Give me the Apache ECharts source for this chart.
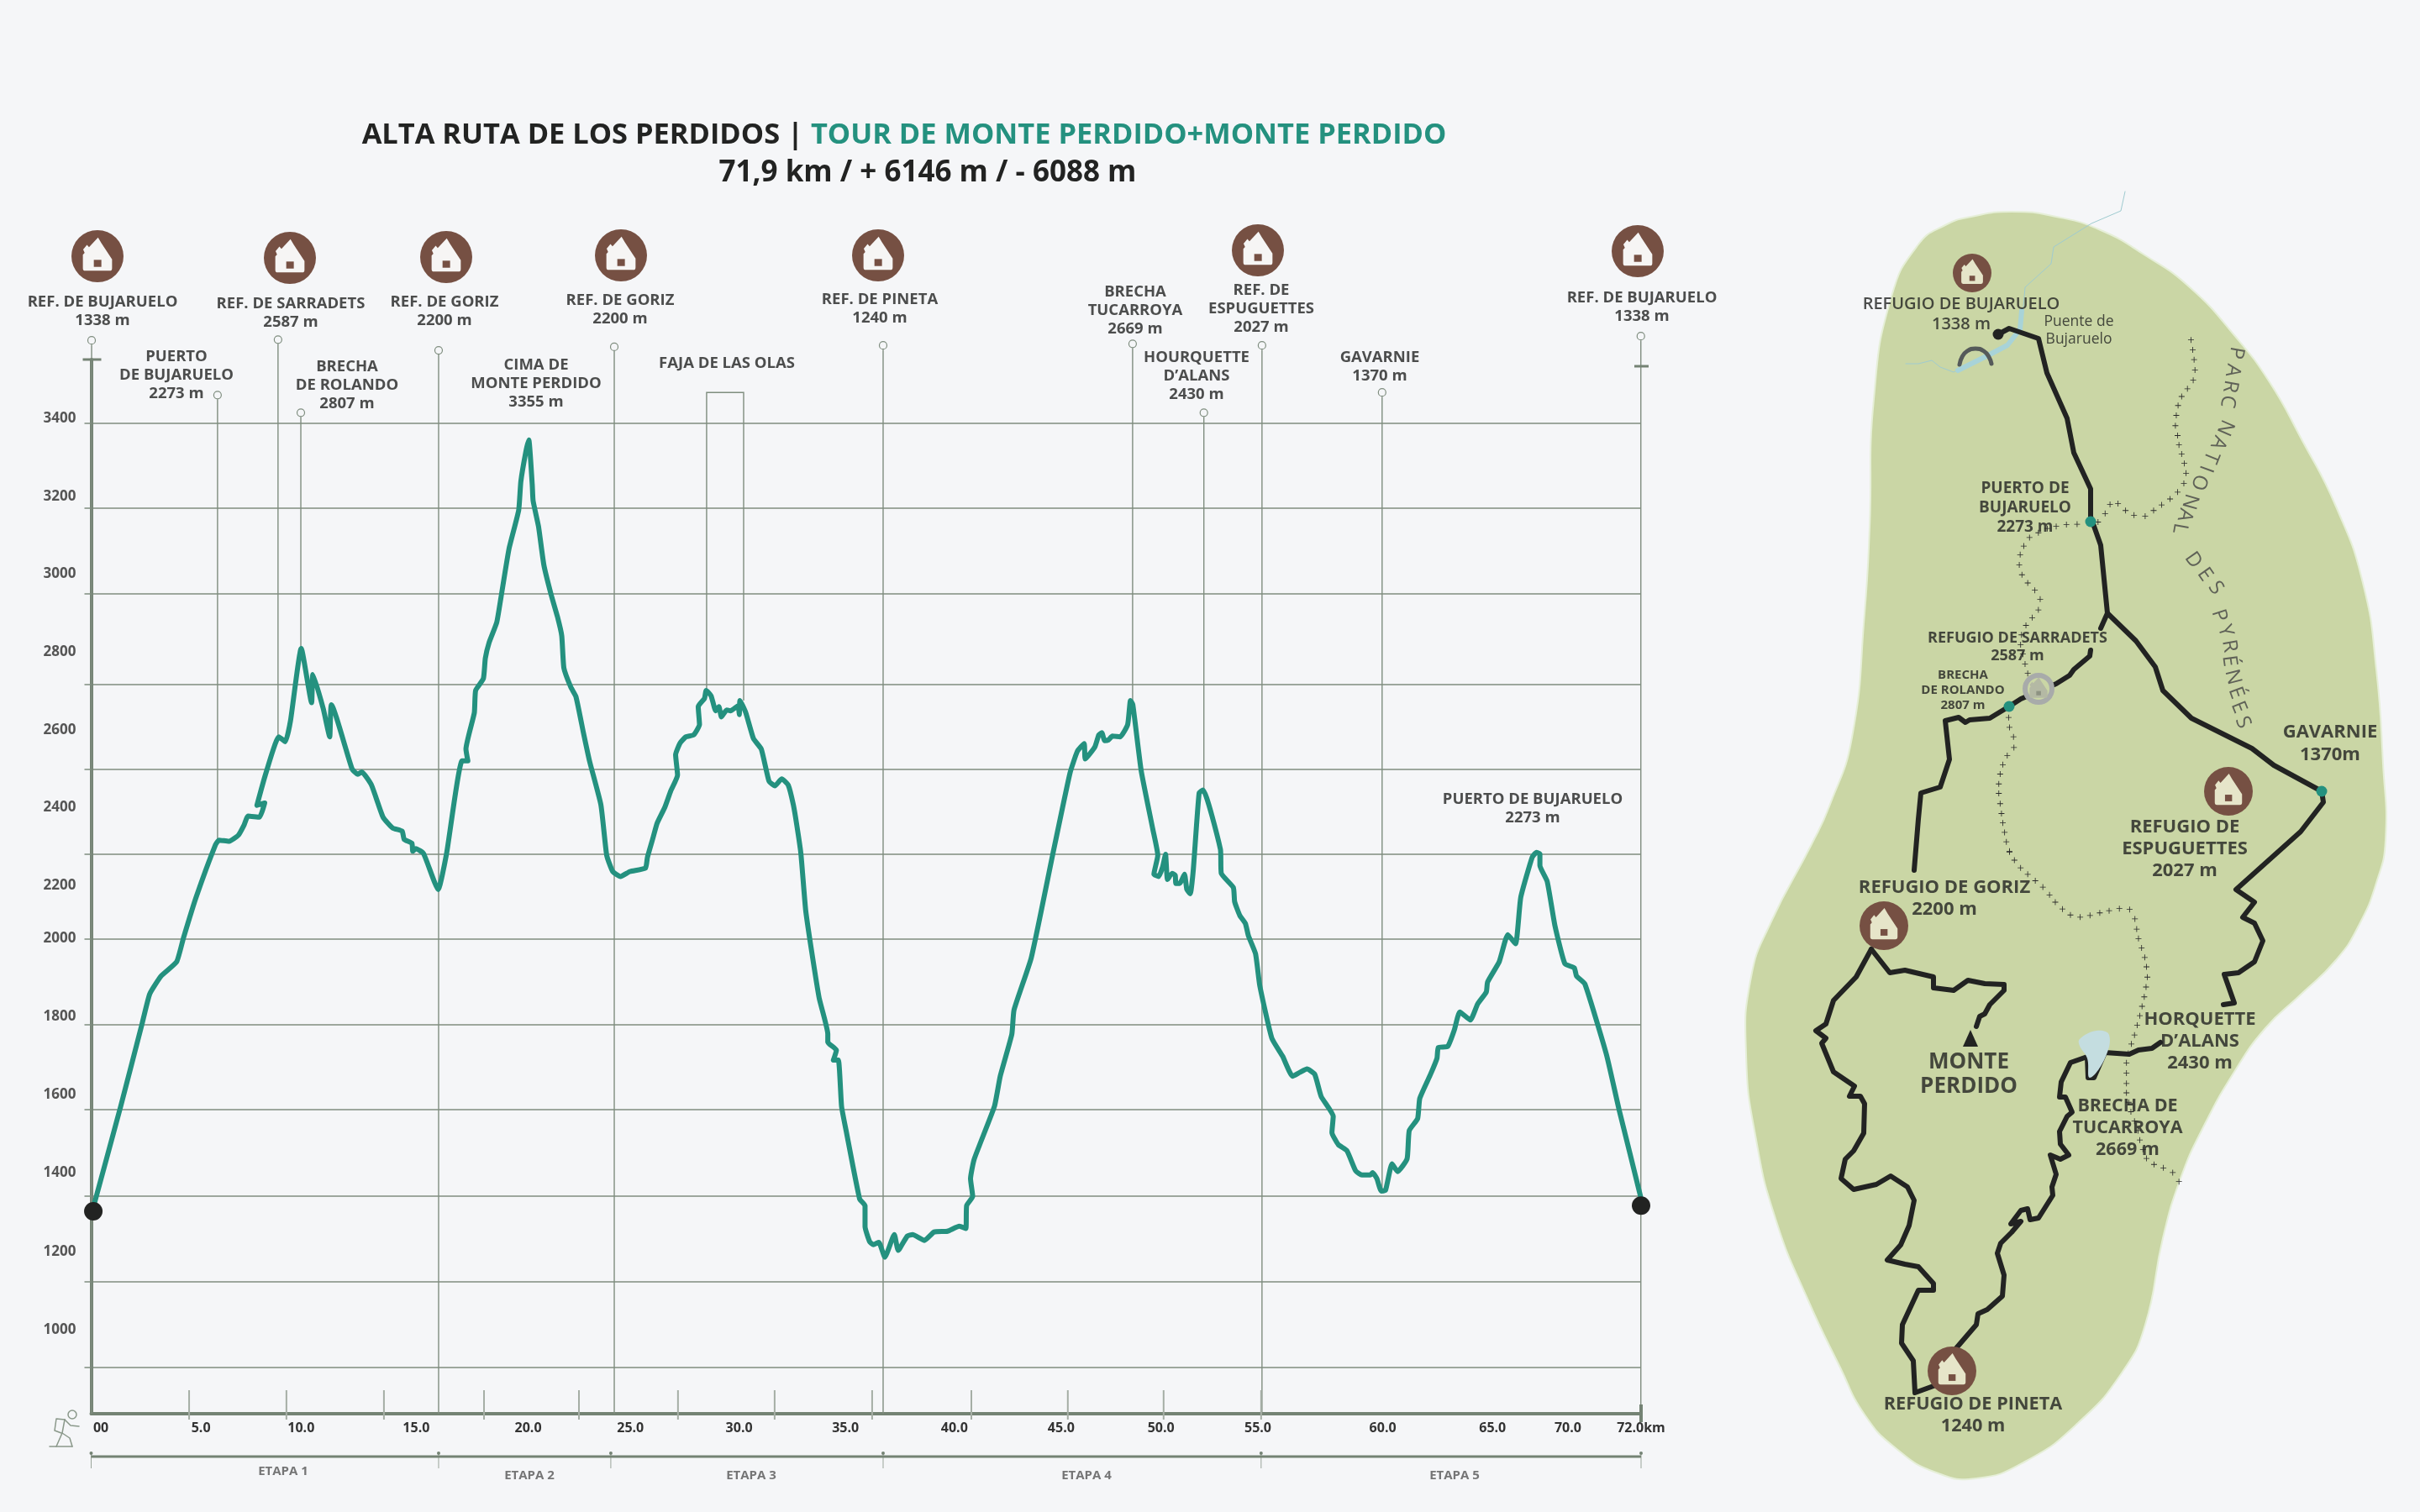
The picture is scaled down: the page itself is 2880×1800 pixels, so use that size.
<!DOCTYPE html>
<html><head><meta charset="utf-8">
<style>html,body{margin:0;padding:0;background:#f5f6f8}#c{width:2880px;height:1800px}</style>
<script src="https://cdn.jsdelivr.net/npm/echarts@6/dist/echarts.min.js"></script>
</head><body><div id="c"></div>
<script>
// ---------- elevation profile: [km, metres] ----------
const stage1 = [[0.05,1338],[1.37,1612],[2.36,1827],[2.72,1906],[3.25,1953],[3.97,1990],[4.29,2053],[4.87,2158],[5.76,2294],[5.94,2308],[6.39,2305],[6.84,2321],[7.10,2347],[7.29,2371],[7.82,2368],[8.06,2405],[7.70,2399],[8.09,2478],[8.72,2578],[9.02,2565],[9.26,2620],[9.76,2809],[10.24,2667],[10.30,2741],[10.78,2652],[11.08,2578],[11.16,2662],[12.12,2494],[12.39,2480],[12.57,2486],[13.02,2452],[13.56,2368],[14.0,2340],[14.45,2331],[14.54,2310],[14.9,2300],[14.94,2279],[15.08,2286],[15.44,2273],[16.12,2179]];
const stage2 = [[16.51,2273],[17.23,2515],[17.5,2515],[17.41,2546],[17.8,2641],[17.86,2699],[18.22,2730],[18.31,2783],[18.49,2825],[18.84,2877],[19.04,2943],[19.41,3069],[19.86,3170],[19.96,3245],[20.2,3325],[20.33,3354],[20.49,3237],[20.53,3195],[20.78,3128],[21.03,3027],[21.36,2951],[21.66,2892],[21.86,2842],[21.96,2758],[22.28,2708],[22.52,2683],[22.87,2588],[23.15,2515],[23.68,2400],[23.95,2268],[24.23,2226]];
const stage3 = [[24.59,2213],[25.03,2226],[25.75,2235],[25.84,2263],[26.11,2316],[26.29,2352],[26.65,2394],[26.92,2436],[27.24,2478],[27.15,2531],[27.36,2562],[27.63,2578],[27.99,2583],[28.26,2610],[28.2,2657],[28.49,2678],[28.57,2699],[28.8,2685],[29.01,2646],[29.16,2657],[29.28,2630],[29.52,2648],[29.7,2646],[30.05,2659],[30.11,2636],[30.14,2673],[30.41,2641],[30.77,2573],[31.13,2546],[31.49,2462],[31.76,2450],[32.08,2468],[32.38,2452],[32.62,2400],[32.78,2347],[32.97,2273],[33.19,2126],[33.46,2021],[33.82,1895],[34.22,1801],[34.22,1780],[34.62,1759],[34.48,1733],[34.71,1733],[34.86,1612],[35.07,1549],[35.7,1370],[35.95,1353],[35.95,1298],[36.17,1258],[36.34,1251],[36.59,1257]];
const stage4 = [[36.87,1218],[37.31,1277],[37.49,1236],[37.91,1273],[38.16,1277],[38.71,1262],[39.16,1284],[39.78,1286],[40.33,1299],[40.63,1293],[40.67,1353],[40.95,1377],[40.85,1423],[41.02,1474],[41.96,1612],[42.23,1691],[42.77,1801],[42.87,1864],[43.67,2000],[44.66,2268],[45.47,2483],[45.82,2541],[46.13,2560],[46.18,2520],[46.63,2552],[46.81,2583],[46.95,2589],[47.08,2568],[47.26,2570],[47.44,2580],[47.8,2578],[48.15,2610],[48.28,2673],[48.39,2662],[48.78,2489],[49.32,2336],[49.55,2268],[49.37,2219],[49.59,2213],[49.77,2237],[49.91,2271],[50,2205],[50.21,2221],[50.36,2216],[50.39,2195],[50.57,2195],[50.79,2219],[50.9,2179],[51.06,2168],[51.2,2231],[51.47,2431],[51.65,2439],[52.46,2284],[52.5,2221],[53.06,2184],[53.12,2147],[53.36,2111],[53.62,2090],[53.76,2058],[54.09,2011],[54.29,1927]];
const stage5 = [[54.85,1790],[55.35,1743],[55.81,1691],[56.15,1701],[56.48,1710],[56.84,1696],[57.14,1638],[57.7,1586],[57.64,1544],[57.94,1512],[58.34,1496],[58.74,1444],[59.03,1433],[59.43,1433],[59.53,1439],[59.73,1423],[59.93,1391],[60.13,1393],[60.43,1462],[60.69,1442],[61.13,1475],[61.23,1549],[61.62,1580],[61.72,1633],[62.22,1696],[62.52,1738],[62.58,1766],[63.02,1769],[63.32,1811],[63.58,1859],[64.07,1838],[64.41,1880],[64.81,1911],[64.87,1937],[65.41,1990],[65.81,2061],[66.17,2037],[66.41,2158],[66.94,2263],[67.14,2276],[67.3,2272],[67.3,2242],[67.64,2200],[68.0,2084],[68.46,1985],[68.9,1974],[69.0,1953],[69.39,1932],[70.39,1748],[70.99,1601],[71.98,1376],[72,1353]];
const profile = [...stage1,...stage2,...stage3,...stage4,...stage5];
const endPoints = [[0.1,1338],[72,1353]];

// ---------- axes ----------
const upperTickLabels = [3400,3200,3000,2800,2600,2400,2200];
const lowerTickLabels = [2000,1800,1600,1400,1200,1000];
const gridLineElev = [3397,3175,2951,2716,2493,2271,2049,1825,1604,1378,1154,930];
const kmTickLabels = ['00','5.0','10.0','15.0','20.0','25.0','30.0','35.0','40.0','45.0','50.0','55.0','60.0','65.0','70.0','72.0km'];
const kmLabelAt = [0.45,5.1,9.75,15.1,20.3,25.05,30.1,35.04,40.1,45.06,49.7,54.2,60,65.1,68.6,72];
const kmMinorTicks = [4.55,9.07,13.6,18.25,22.66,27.26,31.75,36.28,40.89,45.37,49.82,54.35];

// ---------- waypoints: km, elevation of the ring, elevation of the foot ----------
const waypointKm   = [0.02,5.87,8.68,9.74,16.14,24.3,36.79,48.38,51.69,54.39,59.97,71.99];
const waypointTop  = [3614,3471,3616,3425,3588,3597,3601,3605,3425,3601,3478,3625];
const waypointFoot = [809,2310,2582,2811,809,809,809,2672,2442,809,1393,809];
const fajaKm = [28.59,30.31];
const fajaTop = 3478;
const fajaFoot = [2699,2673];
const stageBounds = [0,16.14,24.14,36.79,54.35,72];

// ---------- text ----------
const profileLabels = [
 ['REF. DE BUJARUELO\n1338 m',122,371],['REF. DE SARRADETS\n2587 m',346,373],['REF. DE GORIZ\n2200 m',529,371],['REF. DE GORIZ\n2200 m',738,369],
 ['PUERTO\nDE BUJARUELO\n2273 m',210,447],['BRECHA\nDE ROLANDO\n2807 m',413,459],['CIMA DE\nMONTE PERDIDO\n3355 m',638,457],['FAJA DE LAS OLAS',865,433],
 ['REF. DE PINETA\n1240 m',1047,368],['BRECHA\nTUCARROYA\n2669 m',1351,370],['REF. DE\nESPUGUETTES\n2027 m',1501,368],['HOURQUETTE\nD’ALANS\n2430 m',1424,448],
 ['GAVARNIE\n1370 m',1642,437],['REF. DE BUJARUELO\n1338 m',1954,366],['PUERTO DE BUJARUELO\n2273 m',1824,963]];
const stageLabels = [['ETAPA 1',337,1752],['ETAPA 2',630,1757],['ETAPA 3',894,1757],['ETAPA 4',1293,1757],['ETAPA 5',1731,1757]];
const mapLabels = [
 ['REFUGIO DE BUJARUELO\n1338 m',2334,374,20,24,600],['Puente de\nBujaruelo',2474,394,17.5,21,400],['PUERTO DE\nBUJARUELO\n2273 m',2410,605,19,23,700],
 ['REFUGIO DE SARRADETS\n2587 m',2401,770,18,21,700],['BRECHA\nDE ROLANDO\n2807 m',2336,822,15,18,700],['GAVARNIE\n1370m',2773,885,22,27,700],
 ['REFUGIO DE\nESPUGUETTES\n2027 m',2600,1011,22,26,700],['REFUGIO DE GORIZ\n2200 m',2314,1070,22,26,700],['MONTE\nPERDIDO',2343,1279,26,29,700],
 ['HORQUETTE\nD’ALANS\n2430 m',2618,1240,22,26,700],['BRECHA DE\nTUCARROYA\n2669 m',2532,1343,21.5,26,700],['REFUGIO DE PINETA\n1240 m',2348,1685,21.7,26,700]];
const parkLetters = [
 ['P',2661,420,-100],['A',2657,441,-100],['R',2654,460,-100],['C',2651,478,-100],
 ['N',2648,509,-114],['A',2640,527,-114],['T',2631,544,-112],['I',2625,558,-110],['O',2617,574,-110],['N',2606,597,-106],['A',2600,613,-104],['L',2594,629,-100],
 ['D',2610,667,-55],['E',2624,684,-55],['S',2637,700,-55],
 ['P',2641,733,-72],['Y',2648,751,-72],['R',2653,769,-80],['É',2653,787,-82],['N',2657,806,-76],['É',2661,825,-70],['E',2664,842,-68],['S',2669,860,-68]];

// ---------- map geometry (sheet units) ----------
const blobOutline = [[2346,258],[2394,252],[2447,258],[2500,274],[2553,304],[2606,342],[2659,399],[2701,455],[2738,521],[2780,603],[2812,694],[2828,797],[2836,909],[2839,1000],[2828,1051],[2807,1102],[2780,1143],[2738,1184],[2696,1224],[2659,1276],[2622,1342],[2595,1403],[2574,1474],[2553,1577],[2526,1633],[2473,1694],[2410,1740],[2352,1760],[2304,1753],[2256,1724],[2219,1684],[2190,1628],[2151,1546],[2114,1454],[2090,1357],[2078,1255],[2084,1163],[2108,1097],[2156,1005],[2177,960],[2204,878],[2219,730],[2225,628],[2230,475],[2251,353],[2283,291],[2315,268]];
const riverThin = [[2529,228],[2524,251],[2489,266],[2444,294],[2441,314],[2410,342],[2406,388],[2389,411],[2368,422],[2325,443],[2309,437],[2299,429],[2283,433],[2268,433]];
const riverWide = [[2406,370],[2404,392],[2389,411],[2368,422],[2330,441]];
const bridgeArch = [[2332,434],[2335,425],[2341,418],[2351,415],[2361,418],[2367,425],[2370,433]];
const routeNorth = [[2378,398],[2391,391],[2426,403],[2436,444],[2460,498],[2468,539],[2488,582],[2488,615],[2500,649],[2508,730],[2542,763],[2565,794],[2574,822],[2608,855],[2680,891],[2706,911],[2763,942],[2765,955],[2738,990],[2661,1059],[2683,1074],[2669,1092],[2683,1099],[2693,1120],[2683,1145],[2664,1158],[2647,1160],[2659,1194],[2646,1196]];
const routeSpur = [[2508,730],[2500,748]];
const routeSarradets = [[2488,774],[2487,781],[2468,797],[2463,804],[2447,814],[2405,832],[2391,841],[2368,855],[2344,857],[2339,860],[2331,854],[2315,858],[2320,904],[2309,937],[2286,944],[2283,975],[2278,1036]];
const routeSummit = [[2227,1130],[2249,1158],[2267,1155],[2301,1163],[2301,1176],[2325,1179],[2342,1167],[2362,1171],[2385,1172],[2385,1179],[2368,1196],[2362,1207],[2356,1210],[2352,1222]];
const routeWest = [[2227,1130],[2209,1163],[2182,1191],[2173,1219],[2161,1227],[2173,1236],[2168,1242],[2182,1276],[2207,1293],[2201,1305],[2214,1305],[2219,1314],[2218,1349],[2206,1370],[2196,1380],[2191,1403],[2206,1416],[2233,1410],[2250,1400],[2270,1413],[2278,1429],[2272,1459],[2262,1482],[2246,1500],[2267,1505],[2283,1508],[2301,1528],[2301,1536],[2283,1536],[2264,1577],[2263,1599],[2277,1620],[2279,1658],[2301,1650]];
const routeEast = [[2328,1605],[2352,1577],[2354,1564],[2365,1559],[2383,1543],[2385,1518],[2377,1492],[2381,1480],[2394,1467],[2405,1454],[2393,1457],[2405,1441],[2413,1439],[2416,1452],[2426,1450],[2443,1423],[2442,1413],[2447,1398],[2440,1375],[2452,1380],[2462,1375],[2452,1362],[2451,1347],[2460,1329],[2466,1324],[2458,1306],[2451,1306],[2453,1288],[2464,1265],[2484,1258],[2485,1283],[2492,1283],[2505,1253],[2534,1255],[2545,1250],[2561,1248],[2571,1241]];
const lakeOutline = [[2475,1237],[2495,1227],[2510,1232],[2505,1260],[2487,1283],[2484,1260],[2475,1245]];
const borderNorth = [[1053,362],[1057,385],[1060,408],[1062,432],[1058,456],[1045,476],[1032,494],[1024,515],[1020,538],[1018,562],[1023,585],[1026,607],[1032,628],[1038,650],[1042,673],[1037,697],[1023,717],[1006,733],[987,747],[969,760],[950,773],[925,771],[906,760],[889,744],[871,746],[860,767],[844,787],[797,792],[773,793],[750,797],[730,802],[710,812],[690,823],[677,843],[669,863],[667,887],[673,910],[686,929],[702,946],[714,967],[710,992],[696,1010],[682,1028],[672,1050],[670,1073],[675,1095],[680,1118],[686,1140],[643,1243],[645,1266],[654,1288],[655,1313],[640,1332],[630,1353],[624,1375],[621,1398],[621,1420],[624,1444],[627,1467],[630,1489],[634,1511],[638,1533],[645,1555]];
const borderSouth = [[645,28],[656,47],[670,65],[686,80],[703,95],[720,110],[735,128],[748,145],[764,161],[782,175],[804,180],[826,176],[848,170],[869,165],[892,160],[915,162],[927,184],[931,208],[935,230],[942,252],[949,274],[953,296],[955,320],[952,343],[948,366],[943,388],[938,410],[932,432],[926,455],[919,476],[912,498],[908,520],[908,544],[908,568],[908,590],[913,612],[918,634],[926,656],[934,678],[938,700],[945,722],[953,743],[970,757],[991,765],[1012,776],[1026,797]];
const tealDots = [[2488,621],[2391,841],[2763,942]];
const routeStart = [[2378,398]];
const summitMark = [[2345,1236]];
// huts: x, y, radius, palette
const huts = [[116,305,31,0],[345,307,31,0],[531,306,31,0],[739,304,31,0],[1045,304,31,0],[1497,298,31,0],[1949,299,31,0],
              [2347,325,23,1],[2652,942,29,1],[2242,1102,29,1],[2323,1632,29,1],[2426,820,19,2]];
const hikerStrokes = [[[77,1690],[67,1689],[65,1703],[73,1706]],[[77,1690],[84,1697],[94,1698]],[[77,1690],[74,1706],[67,1722]],[[74,1706],[83,1712],[86,1722]],[[59,1722],[86,1722]]];
const hikerHead = [[86,1684]];

const BG='#f5f6f8', INK='#222322', TEAL='#24917f', AXIS='#748374', GRID='#7f8d7f', FONT='"Open Sans"';
const sheetAxes = {xAxisIndex:1,yAxisIndex:3};
const sheetPoint = ([x,y],y0)=>[2050+x/1.889,y0+y/1.96];
const crossData = [...borderNorth.map(p=>sheetPoint(p,220)),...borderSouth.map(p=>sheetPoint(p,1000))];

const textSeries = (name,rows,mk)=>({type:'scatter',name,...sheetAxes,symbolSize:0.01,silent:true,z:20,clip:false,
  data:rows.map(mk)});
const routeLine = (d,w=6,c=INK,z=6,sm=false)=>({type:'line',...sheetAxes,data:d,showSymbol:false,silent:true,z,clip:false,smooth:sm,
  lineStyle:{color:c,width:w,cap:'round',join:'round'}});

const hutPalette=[{c:'#765043',h:'#f6f5f4',w:'#765043'},{c:'#765043',h:'#e6e5c9',w:'#765043'},{c:'#a8abaa',h:'#b4b9a4',w:'#8d9282'}];
const HOUSE='M52 0 L64 18 L100 66 L100 92 Q100 100 92 100 L8 100 Q0 100 0 92 L0 52 L6 46 L1 36 L14 22 L21 29 Z';

const option={
 animation:false, backgroundColor:BG,
 title:[
  {text:'{a|ALTA RUTA DE LOS PERDIDOS | }{b|TOUR DE MONTE PERDIDO+MONTE PERDIDO}',left:1071,top:156,textAlign:'center',textVerticalAlign:'middle',
   textStyle:{rich:{a:{fontFamily:FONT,fontSize:34.4,fontWeight:700,color:INK},b:{fontFamily:FONT,fontSize:34.4,fontWeight:700,color:TEAL}}}},
  {text:'71,9 km / + 6146 m / - 6088 m',left:1099,top:201,textAlign:'center',textVerticalAlign:'middle',
   textStyle:{fontFamily:FONT,fontSize:35,fontWeight:700,color:INK}}],
 grid:[{left:108.5,top:428,width:1844.5,height:1255},{left:0,top:0,width:2880,height:1800}],
 xAxis:[
  {type:'value',gridIndex:0,min:0,max:72,position:'bottom',splitLine:{show:false},
   axisLine:{onZero:false,lineStyle:{color:AXIS,width:4}},axisTick:{show:false},
   axisLabel:{customValues:kmLabelAt,margin:9,color:'#333',fontFamily:FONT,fontWeight:700,fontSize:16,
     hideOverlap:false,formatter:v=>kmTickLabels[kmLabelAt.indexOf(v)]}},
  {type:'value',gridIndex:1,min:0,max:2880,show:false}],
 yAxis:[
  {type:'value',gridIndex:0,min:809,max:3564,position:'left',
   axisLine:{show:true,onZero:false,lineStyle:{color:AXIS,width:4}},
   axisTick:{show:true,length:8,customValues:gridLineElev,lineStyle:{color:GRID,width:1.5}},
   splitLine:{show:true,lineStyle:{color:GRID,width:1.5}},axisLabel:{show:false}},
  {type:'value',gridIndex:0,min:843,max:3551,position:'left',axisLine:{show:false},axisTick:{show:false},splitLine:{show:false},
   axisLabel:{customValues:upperTickLabels,margin:18,color:'#555',fontFamily:FONT,fontWeight:700,fontSize:17,formatter:v=>String(v)}},
  {type:'value',gridIndex:0,min:785.4,max:3478.5,position:'left',axisLine:{show:false},axisTick:{show:false},splitLine:{show:false},
   axisLabel:{customValues:lowerTickLabels,margin:18,color:'#555',fontFamily:FONT,fontWeight:700,fontSize:17,formatter:v=>String(v)}},
  {type:'value',gridIndex:1,min:0,max:1800,inverse:true,show:false}],
 series:[
  // waypoint rods and rings
  {type:'custom',xAxisIndex:0,yAxisIndex:0,z:3,silent:true,clip:false,
   data:waypointKm.map((k,i)=>[k,waypointTop[i],waypointFoot[i]]),encode:{x:0,y:1},
   renderItem:(p,api)=>{const t=api.coord([api.value(0),api.value(1)]),f=api.coord([api.value(0),api.value(2)]);
     return {type:'group',children:[
      {type:'line',shape:{x1:t[0],y1:t[1]+5,x2:f[0],y2:f[1]},style:{stroke:GRID,lineWidth:1.4}},
      {type:'circle',shape:{cx:t[0],cy:t[1],r:4.5},style:{fill:BG,stroke:'#7f8d7f',lineWidth:1.2}}]};}},
  // Faja box
  {type:'custom',xAxisIndex:0,yAxisIndex:0,z:3,silent:true,clip:false,data:[[fajaKm[0],fajaTop]],encode:{x:0,y:1},
   renderItem:(p,api)=>({type:'polyline',shape:{points:[api.coord([fajaKm[0],fajaFoot[0]]),api.coord([fajaKm[0],fajaTop]),api.coord([fajaKm[1],fajaTop]),api.coord([fajaKm[1],fajaFoot[1]])]},style:{fill:null,stroke:GRID,lineWidth:1.4}})},
  // minor km ticks + axis-end caps
  {type:'custom',xAxisIndex:0,yAxisIndex:0,z:4,silent:true,clip:false,data:kmMinorTicks.map(k=>[k,809]),encode:{x:0,y:1},
   renderItem:(p,api)=>{const c=api.coord([api.value(0),809]);return {type:'line',shape:{x1:c[0],y1:c[1]-28,x2:c[0],y2:c[1]+7},style:{stroke:'#a5aea5',lineWidth:2}};}},
  {type:'custom',xAxisIndex:0,yAxisIndex:0,z:4,silent:true,clip:false,data:[[0,809]],encode:{x:0,y:1},
   renderItem:(p,api)=>{const a=api.coord([0,809]),b=api.coord([72,809]),top=api.coord([0,3564]);return {type:'group',children:[
     {type:'line',shape:{x1:a[0]-10,y1:top[1],x2:a[0]+12,y2:top[1]},style:{stroke:AXIS,lineWidth:3}},
     {type:'line',shape:{x1:b[0]-8,y1:top[1]+8,x2:b[0]+9,y2:top[1]+8},style:{stroke:AXIS,lineWidth:3}},
     {type:'line',shape:{x1:b[0],y1:b[1]-11,x2:b[0],y2:b[1]+10},style:{stroke:AXIS,lineWidth:4}}]};}},
  // stage bar
  {type:'custom',xAxisIndex:0,yAxisIndex:0,z:4,silent:true,clip:false,data:stageBounds.map(k=>[k,809]),encode:{x:0,y:1},
   renderItem:(p,api)=>{const c=api.coord([api.value(0),809]),y=c[1]+51;return {type:'group',children:[
     {type:'line',shape:{x1:c[0],y1:y-3,x2:c[0],y2:y+14},style:{stroke:'#9aa59a',lineWidth:1}},
     {type:'circle',shape:{cx:c[0],cy:y-4,r:2},style:{fill:AXIS}}]};}},
  {type:'custom',xAxisIndex:0,yAxisIndex:0,z:4,silent:true,clip:false,data:[[0,809]],encode:{x:0,y:1},
   renderItem:(p,api)=>{const a=api.coord([0,809]),b=api.coord([72,809]);return {type:'line',shape:{x1:a[0],y1:a[1]+51,x2:b[0],y2:a[1]+51},style:{stroke:AXIS,lineWidth:3}};}},
  // elevation profile
  {type:'line',name:'Altitud',xAxisIndex:0,yAxisIndex:0,data:profile,showSymbol:false,smooth:0.15,z:8,silent:true,
   lineStyle:{color:TEAL,width:6,cap:'round',join:'round'}},
  {type:'scatter',xAxisIndex:0,yAxisIndex:0,data:endPoints,symbolSize:22,itemStyle:{color:INK,opacity:1},z:9,silent:true,clip:false},
  // hiker
  ...hikerStrokes.map(s=>routeLine(s,1.5,'#8a988a',5)),
  {type:'scatter',...sheetAxes,data:hikerHead,symbolSize:10,itemStyle:{color:'rgba(0,0,0,0)',borderColor:'#8a988a',borderWidth:1.5,opacity:1},z:5,silent:true},
  // map
  {type:'custom',...sheetAxes,z:1,silent:true,clip:false,data:[[2400,1000]],encode:{x:0,y:1},
   renderItem:(p,api)=>({type:'polygon',shape:{points:blobOutline.map(q=>api.coord(q)),smooth:0.5},style:{fill:'#cad6a5',stroke:'#e6efd8',lineWidth:2}})},
  routeLine(riverThin,1,'#9fcbd0',2),
  routeLine(riverWide,6,'#a8d3d8',2),
  {type:'scatter',...sheetAxes,data:crossData,symbol:'path://M4.4 0H5.6V4.4H10V5.6H5.6V10H4.4V5.6H0V4.4H4.4Z',symbolSize:7,itemStyle:{color:'#2b2b2b',opacity:1},z:3,silent:true,clip:false},
  routeLine(bridgeArch,5,'#555a5a',4,true),
  routeLine(routeNorth),routeLine(routeSpur),routeLine(routeSarradets),routeLine(routeSummit),routeLine(routeWest),routeLine(routeEast),
  {type:'custom',...sheetAxes,z:7,silent:true,clip:false,data:[[2490,1250]],encode:{x:0,y:1},
   renderItem:(p,api)=>({type:'polygon',shape:{points:lakeOutline.map(q=>api.coord(q)),smooth:0.4},style:{fill:'#c4dde0'}})},
  {type:'scatter',...sheetAxes,data:tealDots,symbolSize:13,itemStyle:{color:TEAL,opacity:1},z:10,silent:true},
  {type:'scatter',...sheetAxes,data:routeStart,symbolSize:13,itemStyle:{color:INK,opacity:1},z:10,silent:true},
  {type:'scatter',...sheetAxes,data:summitMark,symbol:'triangle',symbolSize:[18,20],itemStyle:{color:INK,opacity:1},z:10,silent:true},
  // huts
  {type:'custom',...sheetAxes,z:11,silent:true,clip:false,data:huts,encode:{x:0,y:1},
   renderItem:(p,api)=>{const c=api.coord([api.value(0),api.value(1)]),r=api.value(2),k=hutPalette[api.value(3)];
     const hw=r*1.12,hh=r*1.28,hy=c[1]-r*0.08-hh/2;
     const kids=[
      api.value(3)===2?{type:'circle',shape:{cx:c[0],cy:c[1],r:r-3},style:{fill:'#cad6a5',stroke:k.c,lineWidth:6}}
                      :{type:'circle',shape:{cx:c[0],cy:c[1],r},style:{fill:k.c}},
      {type:'path',shape:{pathData:HOUSE,layout:'cover',x:c[0]-hw/2,y:hy,width:hw,height:hh},style:{fill:k.h}},
      {type:'rect',shape:{x:c[0]-r*0.14,y:c[1]+r*0.14,width:r*0.29,height:r*0.27},style:{fill:k.w}}];
     return {type:'group',children:kids};}},
  // texts
  textSeries('profileLabels',profileLabels,([t,x,y])=>({value:[x,y],label:{show:true,position:'inside',formatter:t,align:'center',verticalAlign:'middle',color:INK,fontFamily:FONT,fontWeight:700,fontSize:18.5,lineHeight:22}})),
  textSeries('stageLabels',stageLabels,([t,x,y])=>({value:[x,y],label:{show:true,position:'inside',formatter:t,align:'center',verticalAlign:'middle',color:'#555',fontFamily:FONT,fontWeight:700,fontSize:15}})),
  textSeries('mapLabels',mapLabels,([t,x,y,fs,lh,w])=>({value:[x,y],label:{show:true,position:'inside',formatter:t,align:'center',verticalAlign:'middle',color:INK,fontFamily:FONT,fontWeight:w,fontSize:fs,lineHeight:lh}})),
  textSeries('parkName',parkLetters,([t,x,y,r])=>({value:[x,y],label:{show:true,position:'inside',formatter:t,rotate:r,align:'center',verticalAlign:'middle',color:'#444',fontFamily:FONT,fontWeight:400,fontSize:24}}))
 ]};
const chart=echarts.init(document.getElementById('c'),null,{renderer:'canvas',width:2880,height:1800});
chart.setOption(option);
</script></body></html>
